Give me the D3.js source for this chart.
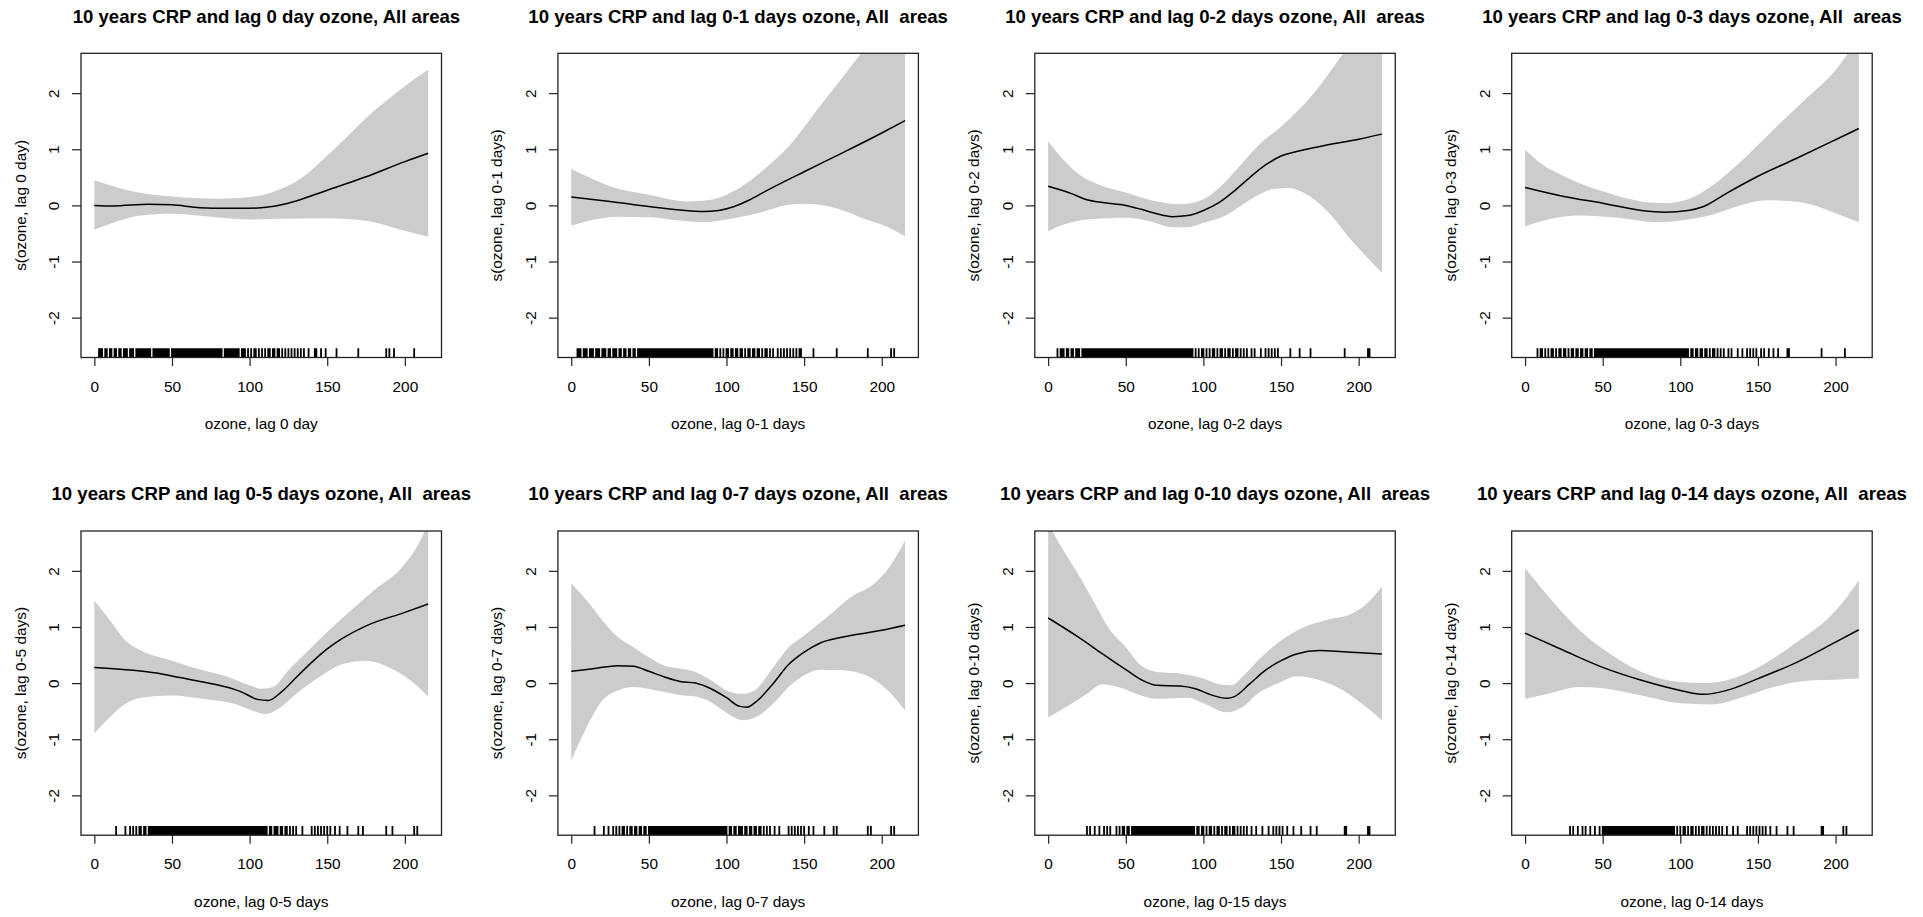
<!DOCTYPE html>
<html>
<head>
<meta charset="utf-8">
<script src="https://cdn.jsdelivr.net/npm/d3@7"></script>
<style>
  html, body { margin: 0; padding: 0; background: #fff; }
  svg { display: block; }
  text { font-family: "Liberation Sans", Arial, sans-serif; fill: #000; }
</style>
</head>
<body>
<script>
// ---- Panel texts ----
const titles = [
  "  10 years CRP and lag 0 day ozone, All areas",
  "10 years CRP and lag 0-1 days ozone, All  areas",
  "10 years CRP and lag 0-2 days ozone, All  areas",
  "10 years CRP and lag 0-3 days ozone, All  areas",
  "10 years CRP and lag 0-5 days ozone, All  areas",
  "10 years CRP and lag 0-7 days ozone, All  areas",
  "10 years CRP and lag 0-10 days ozone, All  areas",
  "10 years CRP and lag 0-14 days ozone, All  areas"
];
const xLabels = [
  "ozone, lag 0 day", "ozone, lag 0-1 days", "ozone, lag 0-2 days", "ozone, lag 0-3 days",
  "ozone, lag 0-5 days", "ozone, lag 0-7 days", "ozone, lag 0-15 days", "ozone, lag 0-14 days"
];
const yLabels = [
  "s(ozone, lag 0 day)", "s(ozone, lag 0-1 days)", "s(ozone, lag 0-2 days)", "s(ozone, lag 0-3 days)",
  "s(ozone, lag 0-5 days)", "s(ozone, lag 0-7 days)", "s(ozone, lag 0-10 days)", "s(ozone, lag 0-14 days)"
];
const xTicks = [0, 50, 100, 150, 200];
const yTicks = [-2, -1, 0, 1, 2];
const xLim = [-8.6, 223.6];
const yLim = [-2.71, 2.71];

// ---- Smooth estimates [ozone, s(ozone)] with upper / lower 2 s.e. bounds ----
const fit0   = [[0,0],[12,-0.01],[35,0.02],[50,0.01],[68,-0.04],[85,-0.05],[100,-0.05],[112,-0.03],[122,0.02],[130,0.08],[150,0.27],[175,0.51],[200,0.78],[215,0.93]];
const upper0 = [[0,0.45],[10,0.36],[20,0.28],[30,0.22],[50,0.16],[80,0.12],[100,0.15],[115,0.24],[132,0.46],[154,0.99],[176,1.58],[197,2.06],[215,2.42]];
const lower0 = [[0,-0.43],[10,-0.33],[20,-0.24],[30,-0.18],[50,-0.15],[70,-0.19],[90,-0.24],[100,-0.25],[120,-0.24],[150,-0.23],[176,-0.28],[197,-0.43],[215,-0.56]];

const fit1   = [[0,0.15],[25,0.07],[50,-0.02],[70,-0.08],[85,-0.11],[95,-0.09],[105,-0.02],[115,0.1],[125,0.25],[150,0.6],[175,0.94],[200,1.29],[215,1.51]];
const upper1 = [[0,0.65],[10,0.52],[25,0.34],[50,0.19],[75,0.07],[90,0.1],[100,0.19],[110,0.34],[125,0.66],[140,1.05],[160,1.76],[180,2.47],[200,3.2],[215,3.75]];
const lower1 = [[0,-0.36],[15,-0.25],[30,-0.2],[50,-0.21],[70,-0.27],[85,-0.3],[100,-0.25],[120,-0.14],[140,0.01],[150,0.03],[160,0.01],[175,-0.09],[190,-0.25],[200,-0.34],[215,-0.55]];

const fit2   = [[0,0.34],[15,0.21],[25,0.1],[35,0.05],[50,0.0],[60,-0.07],[70,-0.15],[80,-0.2],[90,-0.18],[100,-0.09],[110,0.05],[120,0.26],[130,0.5],[140,0.72],[150,0.88],[160,0.96],[175,1.05],[200,1.18],[215,1.27]];
const upper2 = [[0,1.14],[10,0.81],[20,0.55],[30,0.4],[50,0.23],[70,0.07],[85,0.02],[100,0.11],[110,0.31],[125,0.75],[137,1.11],[150,1.4],[175,2.13],[190,2.71],[215,3.6]];
const lower2 = [[0,-0.46],[10,-0.34],[25,-0.25],[50,-0.22],[65,-0.28],[80,-0.39],[90,-0.39],[100,-0.31],[115,-0.17],[130,0.1],[145,0.29],[155,0.31],[165,0.22],[180,-0.11],[195,-0.61],[215,-1.2]];

const fit3   = [[0,0.32],[25,0.16],[50,0.04],[75,-0.09],[90,-0.12],[105,-0.09],[115,-0.02],[130,0.22],[150,0.52],[175,0.84],[200,1.17],[215,1.37]];
const upper3 = [[0,0.99],[10,0.75],[25,0.52],[50,0.25],[75,0.07],[90,0.04],[105,0.11],[120,0.34],[140,0.81],[160,1.35],[180,1.88],[200,2.41],[215,3.0]];
const lower3 = [[0,-0.37],[15,-0.25],[35,-0.18],[60,-0.22],[85,-0.3],[100,-0.27],[120,-0.17],[140,0.01],[155,0.09],[170,0.08],[185,0.01],[200,-0.14],[215,-0.3]];

const fit4   = [[0,0.28],[25,0.23],[40,0.18],[55,0.1],[70,0.02],[85,-0.07],[95,-0.16],[105,-0.29],[112,-0.31],[120,-0.17],[130,0.1],[140,0.37],[150,0.61],[160,0.8],[175,1.02],[200,1.26],[215,1.41]];
const upper4 = [[0,1.47],[10,1.12],[20,0.76],[30,0.58],[50,0.4],[70,0.23],[85,0.12],[100,-0.04],[108,-0.1],[115,-0.07],[125,0.23],[140,0.64],[150,0.91],[165,1.29],[180,1.65],[200,2.12],[210,2.54],[215,2.85]];
const lower4 = [[0,-0.9],[10,-0.61],[20,-0.37],[30,-0.26],[50,-0.22],[70,-0.28],[90,-0.37],[100,-0.47],[110,-0.55],[120,-0.43],[130,-0.19],[145,0.11],[160,0.34],[175,0.4],[190,0.28],[205,0.02],[215,-0.24]];

const fit5   = [[0,0.21],[15,0.26],[30,0.31],[40,0.3],[50,0.21],[60,0.11],[70,0.03],[80,0.0],[90,-0.1],[100,-0.26],[108,-0.41],[113,-0.43],[120,-0.31],[130,-0.01],[140,0.33],[150,0.55],[160,0.71],[175,0.82],[200,0.94],[215,1.03]];
const upper5 = [[0,1.78],[10,1.47],[20,1.12],[30,0.82],[40,0.64],[50,0.46],[60,0.31],[70,0.26],[80,0.2],[90,0.05],[100,-0.13],[110,-0.19],[118,-0.13],[130,0.28],[140,0.64],[150,0.85],[165,1.18],[180,1.53],[195,1.77],[205,2.07],[215,2.54]];
const lower5 = [[0,-1.38],[10,-0.78],[20,-0.31],[30,-0.13],[40,-0.07],[55,-0.13],[70,-0.21],[80,-0.24],[90,-0.34],[100,-0.53],[110,-0.66],[120,-0.59],[130,-0.37],[140,-0.07],[150,0.14],[160,0.24],[175,0.23],[190,0.14],[205,-0.16],[215,-0.49]];

const fit6   = [[0,1.16],[20,0.81],[35,0.52],[50,0.24],[60,0.06],[70,-0.04],[85,-0.05],[95,-0.1],[105,-0.21],[115,-0.27],[120,-0.24],[130,-0.01],[140,0.23],[150,0.4],[160,0.52],[175,0.58],[190,0.56],[215,0.52]];
const upper6 = [[0,2.85],[8,2.45],[18,2.0],[29,1.47],[40,0.94],[50,0.64],[60,0.31],[70,0.2],[85,0.17],[100,0.08],[110,-0.02],[118,-0.04],[125,0.11],[135,0.4],[150,0.76],[165,1.0],[180,1.13],[195,1.23],[205,1.41],[215,1.72]];
const lower6 = [[0,-0.61],[15,-0.37],[25,-0.19],[35,-0.02],[45,-0.07],[60,-0.22],[70,-0.28],[90,-0.26],[100,-0.36],[115,-0.52],[125,-0.43],[135,-0.19],[150,0.02],[160,0.12],[175,0.05],[190,-0.13],[205,-0.43],[215,-0.66]];

const fit7   = [[0,0.89],[25,0.58],[50,0.28],[75,0.05],[100,-0.13],[115,-0.2],[130,-0.13],[150,0.08],[175,0.37],[200,0.73],[215,0.95]];
const upper7 = [[0,2.05],[10,1.71],[25,1.23],[40,0.82],[50,0.61],[75,0.2],[100,0.02],[115,0.0],[130,0.05],[150,0.28],[175,0.73],[200,1.29],[215,1.83]];
const lower7 = [[0,-0.28],[15,-0.19],[35,-0.07],[50,-0.09],[75,-0.22],[100,-0.36],[120,-0.38],[140,-0.25],[160,-0.07],[185,0.05],[200,0.06],[215,0.08]];

// ---- Observed ozone values (rug) ----
const rug0 = [3,4,5,7,8,10,11,13,14,16,17,19,20,21,23,24,25,27,28,29,30,31,32,33,34,35,36,38,39,40,41,42,43,44,45,46,47,48,50,51,52,53,54,55,56,57,58,59,60,61,62,63,64,65,66,67,68,69,70,71,72,73,74,75,76,77,78,79,80,81,82,84,85,86,87,88,89,90,91,92,93,95,96,97,99,101,103,104,106,108,110,112,113,115,116,118,119,121,123,125,127,129,131,133,135,138,142,143,146,149,156,170,188,190,193,206];
const rug1 = [4,5,6,8,9,10,12,13,14,16,17,18,20,21,22,24,25,27,28,29,31,32,34,35,37,38,40,41,43,44,45,46,47,48,49,50,51,52,53,54,55,56,57,58,59,60,61,62,63,64,65,66,67,68,69,70,71,72,73,74,75,76,77,78,79,80,81,82,83,84,85,86,87,88,89,90,91,93,94,96,98,100,101,103,104,106,107,109,110,112,114,115,117,118,120,121,123,125,126,128,130,133,135,137,139,141,143,145,147,148,156,171,191,206,208];
const rug2 = [6,8,9,10,12,13,15,16,18,19,20,22,23,24,25,26,27,28,29,30,31,32,33,34,35,36,37,38,39,40,41,42,43,44,45,46,47,48,49,50,51,52,53,54,55,56,57,58,59,60,61,62,63,64,65,66,67,68,69,70,71,72,73,74,75,76,77,78,79,80,81,82,83,84,85,86,87,88,89,90,91,92,93,95,97,99,100,102,104,106,107,109,111,112,114,116,117,119,121,122,124,126,128,131,133,137,140,142,144,146,148,156,162,169,191,206,207];
const rug3 = [8,10,11,13,15,17,18,20,22,23,25,26,28,30,31,33,34,36,37,39,40,42,43,45,46,47,48,49,50,51,52,53,54,55,56,57,58,59,60,61,62,63,64,65,66,67,68,69,70,71,72,73,74,75,76,77,78,79,80,81,82,83,84,85,86,87,88,89,90,91,92,93,94,95,96,97,98,99,100,101,102,103,104,105,107,108,110,111,113,114,116,117,119,121,122,124,126,128,131,133,137,140,143,145,147,149,152,154,157,160,163,169,170,191,206];
const rug4 = [14,20,23,25,27,29,30,32,33,35,36,37,38,39,40,41,42,43,44,45,46,47,48,49,50,51,52,53,54,55,56,57,58,59,60,61,62,63,64,65,66,67,68,69,70,71,72,73,74,75,76,77,78,79,80,81,82,83,84,85,86,87,88,89,90,91,92,93,94,95,96,97,98,99,100,101,102,103,104,105,106,107,108,109,110,111,113,114,116,117,118,120,121,123,124,126,128,130,134,140,142,144,146,148,150,152,155,158,163,170,173,188,192,206,208];
const rug5 = [15,21,24,27,29,31,33,34,36,38,39,41,42,44,45,47,48,50,51,52,53,54,55,56,57,58,59,60,61,62,63,64,65,66,67,68,69,70,71,72,73,74,75,76,77,78,79,80,81,82,83,84,85,86,87,88,89,90,91,92,93,94,95,96,97,98,99,100,102,103,105,106,108,109,110,112,113,115,116,118,119,121,122,124,126,128,131,134,140,142,144,146,148,150,153,156,163,169,171,191,193,206,208];
const rug6 = [25,27,30,33,36,38,40,44,46,48,49,51,52,54,55,56,57,58,59,60,61,62,63,64,65,66,67,68,69,70,71,72,73,74,75,76,77,78,79,80,81,82,83,84,85,86,87,88,89,90,91,92,93,94,96,97,99,100,102,104,105,107,109,110,112,114,115,117,119,120,122,124,126,128,131,134,138,142,145,147,149,151,154,158,163,169,173,191,192,206,207];
const rug7 = [29,31,34,37,39,42,45,48,50,51,52,53,54,55,56,57,58,59,60,61,62,63,64,65,66,67,68,69,70,71,72,73,74,75,76,77,78,79,80,81,82,83,84,85,86,87,88,89,90,91,92,93,94,95,96,98,100,102,103,105,107,108,110,112,114,115,117,119,121,123,125,127,130,134,137,143,145,147,149,151,153,155,158,162,169,173,191,192,205,207];

const fits   = [fit0, fit1, fit2, fit3, fit4, fit5, fit6, fit7];
const uppers = [upper0, upper1, upper2, upper3, upper4, upper5, upper6, upper7];
const lowers = [lower0, lower1, lower2, lower3, lower4, lower5, lower6, lower7];
const rugs   = [rug0, rug1, rug2, rug3, rug4, rug5, rug6, rug7];

// ---- Layout: 2 x 4 grid of plot regions ----
const W = 1923, H = 917;
const boxW = 360.5, boxH = 304.2;
const colStep = 476.9, rowStep = 477.7;
const left0 = 81, top0 = 53.3;
const rugLen = 9.3;
const axisColor = "#222";
const fontFamily = "Liberation Sans, Arial, sans-serif";

const svg = d3.select("body").append("svg")
  .attr("width", W).attr("height", H)
  .attr("viewBox", `0 0 ${W} ${H}`);
svg.append("rect").attr("width", W).attr("height", H).attr("fill", "#fff");

titles.forEach((title, k) => {
  const col = k % 4, row = Math.floor(k / 4);
  const g = svg.append("g")
    .attr("transform", `translate(${left0 + col * colStep},${top0 + row * rowStep})`);

  const x = d3.scaleLinear().domain(xLim).range([0, boxW]);
  const y = d3.scaleLinear().domain(yLim).range([boxH, 0]);

  const clipId = `clip-${k}`;
  g.append("clipPath").attr("id", clipId)
    .append("rect").attr("width", boxW).attr("height", boxH);

  const line = d3.line()
    .x(d => x(d[0])).y(d => y(d[1]))
    .curve(d3.curveMonotoneX);

  // confidence band: upper edge left-to-right, lower edge right-to-left
  const bandPath = line(uppers[k]) +
    line(lowers[k].slice().reverse()).replace(/^M/, "L") + "Z";

  const plot = g.append("g").attr("clip-path", `url(#${clipId})`);
  plot.append("path").attr("d", bandPath)
    .attr("fill", "#cccccc").attr("stroke", "none");
  plot.append("path").attr("d", line(fits[k]))
    .attr("fill", "none").attr("stroke", "#000").attr("stroke-width", 1.5);

  // rug of observed values, one path so neighbouring ticks merge cleanly
  const rugPath = d3.path();
  rugs[k].forEach(v => {
    rugPath.moveTo(x(v), boxH);
    rugPath.lineTo(x(v), boxH - rugLen);
  });
  g.append("path").attr("d", rugPath.toString())
    .attr("fill", "none").attr("stroke", "#000").attr("stroke-width", 1.8);

  // x axis
  const gx = g.append("g").attr("transform", `translate(0,${boxH})`)
    .call(d3.axisBottom(x).tickValues(xTicks).tickFormat(d => String(d))
      .tickSize(8.5).tickSizeOuter(0));
  gx.select(".domain").remove();
  gx.selectAll(".tick line").attr("stroke", axisColor).attr("stroke-width", 1.2);
  gx.selectAll(".tick text")
    .attr("y", 34.3).attr("dy", 0)
    .attr("font-size", 15.4).attr("font-family", fontFamily)
    .attr("fill", "#000");

  // y axis (labels parallel to the axis)
  const gy = g.append("g")
    .call(d3.axisLeft(y).tickValues(yTicks).tickFormat(d => String(d))
      .tickSize(9).tickSizeOuter(0));
  gy.select(".domain").remove();
  gy.selectAll(".tick line").attr("stroke", axisColor).attr("stroke-width", 1.2);
  gy.selectAll(".tick text")
    .attr("x", 0).attr("y", 0).attr("dy", 0)
    .attr("text-anchor", "middle")
    .attr("transform", "translate(-21.7,0) rotate(-90)")
    .attr("font-size", 15.4).attr("font-family", fontFamily)
    .attr("fill", "#000");

  // frame
  g.append("rect").attr("width", boxW).attr("height", boxH)
    .attr("fill", "none").attr("stroke", axisColor).attr("stroke-width", 1.3);

  // titles and axis labels
  g.append("text")
    .attr("x", boxW / 2).attr("y", -30.6)
    .attr("text-anchor", "middle")
    .attr("font-size", 18.6).attr("font-weight", "bold")
    .style("white-space", "pre")
    .text(title);

  g.append("text")
    .attr("x", boxW / 2).attr("y", boxH + 72)
    .attr("text-anchor", "middle")
    .attr("font-size", 15.4)
    .text(xLabels[k]);

  g.append("text")
    .attr("transform", `translate(-55.5,${boxH / 2}) rotate(-90)`)
    .attr("text-anchor", "middle")
    .attr("font-size", 15.4)
    .text(yLabels[k]);
});
</script>
</body>
</html>
